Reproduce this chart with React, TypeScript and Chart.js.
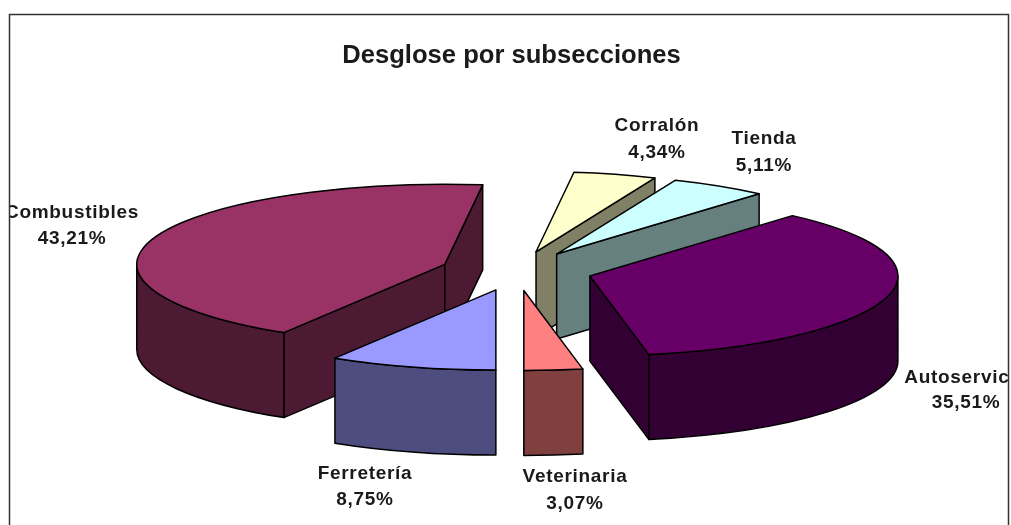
import React, { useEffect, useRef } from "react";
import { Chart, registerables } from "chart.js";

Chart.register(...registerables);

const chartTitle = "Desglose por subsecciones";
const categories = ["Ferretería", "Combustibles", "Corralón", "Tienda", "Autoservicio", "Veterinaria"];
const shares = [8.75, 43.21, 4.34, 5.11, 35.51, 3.07];
const shareLabels = ["8,75%", "43,21%", "4,34%", "5,11%", "35,51%", "3,07%"];
const topColors = ["#9999FF", "#993366", "#FFFFCC", "#CCFFFF", "#660066", "#FF8080"];
const sideColors = ["#4D4D80", "#4D1A33", "#808066", "#668080", "#330033", "#804040"];

// Label anchors (centre x, first-line centre y) in page pixels
const labelX = [365, 72, 657, 764, 966, 575];
const labelY = [474, 213, 126, 139, 378, 477];
const labelGap = [26, 26, 27, 27, 25, 27];

const TILT = 0.26;
const DEPTH = 85;
const EXPLODE = 76;
const SHIFT_X = 5;
const FRAME = { left: 9.5, top: 14.5, right: 1008.5 };
const TEXT = "#1a1a1a";
const FONT = 'bold 19px "Liberation Sans", Arial, sans-serif';

const pie3d = {
  id: "pie3d",
  beforeDatasetsDraw(chart: any) {
    const { ctx } = chart;
    const arcs = chart.getDatasetMeta(0).data as any[];
    const slices = arcs.map((el, i) => {
      const mid = (el.startAngle + el.endAngle) / 2;
      return {
        i,
        x: el.x + SHIFT_X + Math.cos(mid) * EXPLODE,
        y: el.y + Math.sin(mid) * EXPLODE * TILT,
        r: el.outerRadius,
        s: el.startAngle,
        e: el.endAngle,
      };
    });
    slices.sort((a, b) => a.y - b.y);

    ctx.save();
    ctx.lineWidth = 1.5;
    ctx.lineJoin = "round";
    ctx.strokeStyle = "#000";
    const paint = (fill: string) => {
      ctx.closePath();
      ctx.fillStyle = fill;
      ctx.fill();
      ctx.stroke();
    };
    for (const p of slices) {
      const side = sideColors[p.i];
      const px = (a: number) => p.x + Math.cos(a) * p.r;
      const py = (a: number) => p.y + Math.sin(a) * p.r * TILT;
      const wall = (a: number) => {
        ctx.beginPath();
        ctx.moveTo(p.x, p.y);
        ctx.lineTo(px(a), py(a));
        ctx.lineTo(px(a), py(a) + DEPTH);
        ctx.lineTo(p.x, p.y + DEPTH);
        paint(side);
      };
      if (Math.cos(p.s) < -1e-6) wall(p.s);
      if (Math.cos(p.e) > 1e-6) wall(p.e);
      // Outer rim: only the part of the arc facing the viewer
      const TAU = Math.PI * 2;
      for (const k of [0, 1, -1]) {
        const a0 = Math.max(p.s, k * TAU);
        const a1 = Math.min(p.e, k * TAU + Math.PI);
        if (a1 > a0) {
          ctx.beginPath();
          ctx.ellipse(p.x, p.y, p.r, p.r * TILT, 0, a0, a1, false);
          ctx.lineTo(px(a1), py(a1) + DEPTH);
          ctx.ellipse(p.x, p.y + DEPTH, p.r, p.r * TILT, 0, a1, a0, true);
          paint(side);
        }
      }
      ctx.beginPath();
      ctx.moveTo(p.x, p.y);
      ctx.ellipse(p.x, p.y, p.r, p.r * TILT, 0, p.s, p.e, false);
      paint(topColors[p.i]);
    }

    // Data labels, clipped by the chart frame
    ctx.beginPath();
    ctx.rect(FRAME.left, FRAME.top, FRAME.right - FRAME.left, 525);
    ctx.clip();
    ctx.font = FONT;
    ctx.fillStyle = TEXT;
    ctx.textAlign = "center";
    ctx.textBaseline = "middle";
    (ctx as any).letterSpacing = "0.7px";
    categories.forEach((name, i) => {
      ctx.fillText(name, labelX[i], labelY[i]);
      ctx.fillText(shareLabels[i], labelX[i], labelY[i] + labelGap[i]);
    });
    (ctx as any).letterSpacing = "0px";
    ctx.restore();

    // Chart frame: left, top and right edges; the bottom is cropped
    ctx.save();
    ctx.strokeStyle = "#333";
    ctx.lineWidth = 1.5;
    ctx.beginPath();
    ctx.moveTo(FRAME.left, 525);
    ctx.lineTo(FRAME.left, FRAME.top);
    ctx.lineTo(FRAME.right, FRAME.top);
    ctx.lineTo(FRAME.right, 525);
    ctx.stroke();
    ctx.restore();
    return false;
  },
};

export default function App() {
  const ref = useRef<HTMLCanvasElement>(null);
  useEffect(() => {
    const chart = new Chart(ref.current!, {
      type: "pie",
      data: {
        labels: categories,
        datasets: [{ data: shares, backgroundColor: topColors }],
      },
      options: {
        responsive: false,
        animation: false,
        rotation: 180,
        radius: 308,
        layout: { padding: { left: 12, top: 0, right: 0, bottom: 55 } },
        events: [],
        plugins: {
          legend: { display: false },
          tooltip: { enabled: false },
          title: {
            display: true,
            text: chartTitle,
            color: TEXT,
            font: { family: '"Liberation Sans", Arial, sans-serif', size: 25.6, weight: "bold" },
            padding: { top: 41, bottom: 0 },
          },
        },
      },
      plugins: [pie3d],
    } as any);
    return () => chart.destroy();
  }, []);
  return (
    <div style={{ position: "fixed", left: 0, top: 0, width: 1011, height: 525, background: "#fff" }}>
      <canvas ref={ref} width={1011} height={525} style={{ display: "block" }} />
    </div>
  );
}
